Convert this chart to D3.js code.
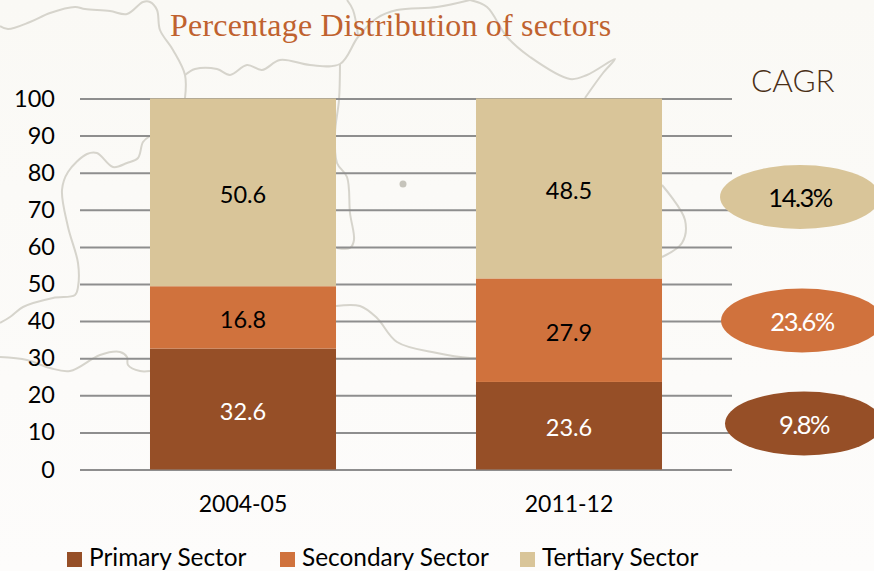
<!DOCTYPE html>
<html>
<head>
<meta charset="utf-8">
<script src="https://cdnjs.cloudflare.com/ajax/libs/d3/7.8.5/d3.min.js"></script>
<style>
  html, body { margin: 0; padding: 0; background: #fbfaf7; overflow: hidden; }
  text { font-family: Lato, "Open Sans", sans-serif; }
</style>
</head>
<body>
<svg id="chart" width="874" height="571"></svg>
<script>
// Chart values
const periods = ["2004-05", "2011-12"];
const sectors = ["Primary Sector", "Secondary Sector", "Tertiary Sector"];
const primaryValues = [32.6, 23.6];
const secondaryValues = [16.8, 27.9];
const tertiaryValues = [50.6, 48.5];
const cagrValues = ["9.8%", "23.6%", "14.3%"];
const yTicks = [0, 10, 20, 30, 40, 50, 60, 70, 80, 90, 100];

const sectorColors = ["#964f27", "#d0723d", "#d9c599"];
const labelColors = ["#ffffff", "#000000", "#000000"];

const svg = d3.select("#chart");

// Page background, very slightly lighter towards the bottom
const grad = svg.append("defs").append("linearGradient")
    .attr("id", "paper").attr("x1", 0).attr("y1", 0).attr("x2", 0).attr("y2", 1);
grad.append("stop").attr("offset", "0").attr("stop-color", "#faf9f5");
grad.append("stop").attr("offset", "1").attr("stop-color", "#fdfcfb");
svg.append("rect").attr("width", 874).attr("height", 571).attr("fill", "url(#paper)");

// Faint map outline behind the chart (decoration, not data)
const mapOutlines = [
    [[0,26],[8,29],[30,22],[50,13],[75,7],[85,9],[110,11],[127,14],[143,2],[150,2],[157,10],[160,30],[173,50],[185,75],[185,98]],
    [[185,75],[195,69],[217,69],[230,75],[247,65],[262,70],[280,60],[310,65],[340,64],[358,37],[377,18],[397,10],[437,7],[470,0]],
    [[347,0],[353,10],[358,35]],
    [[470,0],[487,7],[507,37],[530,57],[570,79],[587,75],[615,59],[603,73],[585,98]],
    [[340,64],[339,100],[335,133],[337,163],[347,177],[350,213],[354,240],[350,248],[337,248]],
    [[150,136],[143,142],[138,158],[127,163],[113,167],[97,153],[87,154],[68,172],[62,190],[68,227],[78,263],[78,287],[75,295],[53,298],[23,307],[10,317],[0,323]],
    [[0,357],[27,360],[50,368],[70,371],[100,355],[120,352],[127,357],[128,365],[140,371],[150,371]],
    [[336,306],[360,306],[377,318],[397,342],[437,353],[470,358],[476,358]],
    [[662,185],[685,220],[682,243],[662,257]]
];
const outlineLine = d3.line().curve(d3.curveCatmullRom.alpha(0.5));
svg.append("g").selectAll("path")
    .data(mapOutlines)
    .join("path")
    .attr("d", outlineLine)
    .attr("fill", "none")
    .attr("stroke", "#d6d4cc")
    .attr("stroke-width", 2);
svg.append("circle").attr("cx", 403).attr("cy", 184).attr("r", 3.5).attr("fill", "#c6c4bb");

// Scales
const x = d3.scaleBand().domain(periods).range([80, 732]).paddingInner(0.4294).paddingOuter(0.2147);
const y = d3.scaleLinear().domain([0, 100]).range([469.5, 98.5]);

// Horizontal grid lines and y labels
const yAxis = svg.append("g")
    .attr("transform", "translate(80,0)")
    .call(d3.axisLeft(y).tickValues(yTicks).tickSize(-652).tickPadding(25).tickFormat(d3.format("d")));
yAxis.select(".domain").remove();
yAxis.selectAll(".tick line").attr("stroke", "#8e8e8e").attr("stroke-width", 2);
yAxis.selectAll(".tick text").attr("fill", "#000").attr("font-size", 23.5).attr("font-family", "Lato");

// Stacked bars
const rows = periods.map((p, i) => ({
    period: p,
    [sectors[0]]: primaryValues[i],
    [sectors[1]]: secondaryValues[i],
    [sectors[2]]: tertiaryValues[i]
}));
const stacked = d3.stack().keys(sectors)(rows);

const layers = svg.append("g").selectAll("g")
    .data(stacked)
    .join("g")
    .attr("fill", (d, i) => sectorColors[i]);

layers.selectAll("rect")
    .data(d => d)
    .join("rect")
    .attr("x", d => x(d.data.period))
    .attr("y", d => y(d[1]))
    .attr("width", x.bandwidth())
    .attr("height", d => y(d[0]) - y(d[1]));

// Value labels inside the bars
layers.each(function (layer, i) {
    d3.select(this).selectAll("text")
        .data(layer)
        .join("text")
        .attr("x", d => x(d.data.period) + x.bandwidth() / 2)
        .attr("y", d => y((d[0] + d[1]) / 2) + 10.5)
        .attr("text-anchor", "middle")
        .attr("font-size", 23.5)
        .attr("fill", labelColors[i])
        .text(d => d3.format(".1f")(d[1] - d[0]));
});

// Period labels under the bars
svg.append("g").selectAll("text")
    .data(periods)
    .join("text")
    .attr("x", d => x(d) + x.bandwidth() / 2)
    .attr("y", 512)
    .attr("text-anchor", "middle")
    .attr("font-size", 23)
    .attr("fill", "#000")
    .text(d => d);

// Legend
const legendX = [67, 280, 520];
const legend = svg.append("g").selectAll("g")
    .data(sectors)
    .join("g")
    .attr("transform", (d, i) => `translate(${legendX[i]},552)`);
legend.append("rect")
    .attr("width", 15).attr("height", 15)
    .attr("fill", (d, i) => sectorColors[i]);
legend.append("text")
    .attr("x", 22).attr("y", 13.5)
    .attr("font-size", 24.4)
    .attr("fill", "#000")
    .text(d => d);

// Title and CAGR heading
svg.append("text")
    .attr("x", 170).attr("y", 36)
    .attr("font-size", 32)
    .attr("letter-spacing", 0.2)
    .attr("fill", "#c0622f")
    .style("font-family", "'Liberation Serif', serif")
    .text("Percentage Distribution of sectors");
svg.append("text")
    .attr("x", 751).attr("y", 92)
    .attr("font-size", 31.5)
    .attr("font-weight", 300)
    .attr("fill", "#4a2f17")
    .text("CAGR");

// CAGR ellipses
const pillCx = [804, 802, 800];
const pillCy = [423.5, 320.5, 197];
const pillRx = [79, 81, 80];
const pillColors = sectorColors;
const pillText = ["#ffffff", "#ffffff", "#000000"];
const pills = svg.append("g").selectAll("g")
    .data(cagrValues)
    .join("g")
    .attr("transform", (d, i) => `translate(${pillCx[i]},${pillCy[i]})`);
pills.append("ellipse")
    .attr("rx", (d, i) => pillRx[i])
    .attr("ry", 32)
    .attr("fill", (d, i) => pillColors[i]);
pills.append("text")
    .attr("text-anchor", "middle")
    .attr("y", 10)
    .attr("font-size", 25.5)
    .attr("letter-spacing", -1.5)
    .attr("fill", (d, i) => pillText[i])
    .text(d => d);
</script>
</body>
</html>
